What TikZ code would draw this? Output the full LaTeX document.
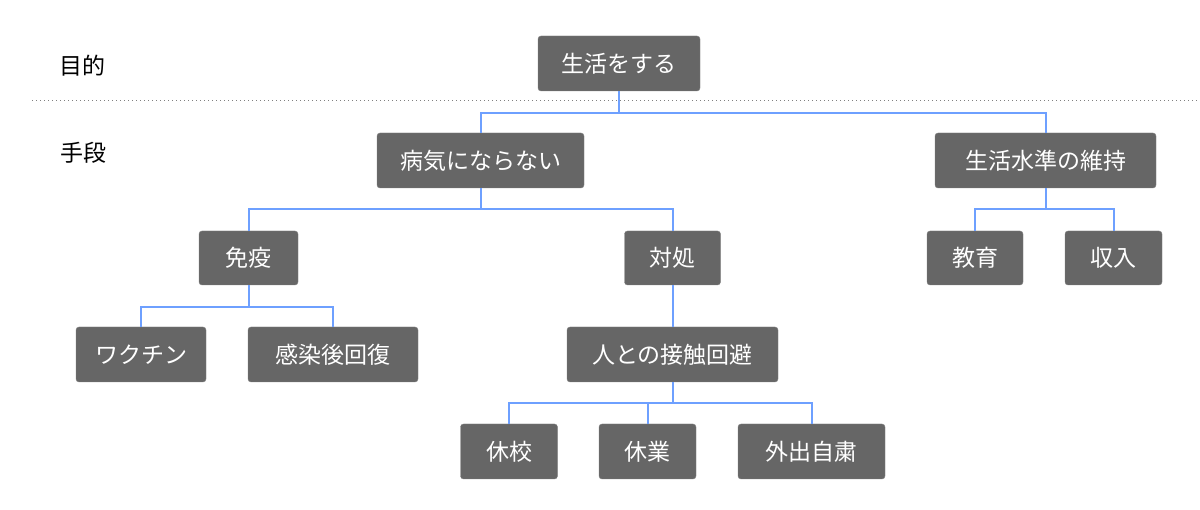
\documentclass[tikz,border=0pt]{standalone}
\usepackage{fontspec}
\setmainfont{Noto Sans CJK JP}
\definecolor{connblue}{RGB}{110,160,255}
\begin{document}
\begin{tikzpicture}[x=1pt,y=-1pt,
  box/.style={draw=black!50,fill=black!60,text=white,rounded corners=3pt,inner sep=0pt,minimum height=55pt,font=\fontsize{23}{25}\selectfont},
  conn/.style={draw=connblue,line width=2pt},
  lbl/.style={inner sep=0pt,font=\fontsize{23}{25}\selectfont}]
\useasboundingbox (0,0) rectangle (1200,510);
\draw[black!50,line width=1pt,dash pattern=on 1pt off 3pt] (32,101) -- (1197,101);
\node[lbl] (mokuteki) at (82,66) {目的};
\node[lbl] (shudan) at (83,153) {手段};
\node[box,minimum width=162pt] (top) at (619,63.5) {生活をする};
\node[box,minimum width=207pt] (byoki) at (480.5,160.5) {病気にならない};
\node[box,minimum width=221pt] (suijun) at (1045.5,160.5) {生活水準の維持};
\node[box,minimum width=99pt,minimum height=54pt] (meneki) at (248.5,258) {免疫};
\node[box,minimum width=96pt,minimum height=54pt] (taisho) at (672.5,258) {対処};
\node[box,minimum width=96pt,minimum height=54pt] (kyoiku) at (975,258) {教育};
\node[box,minimum width=97pt,minimum height=54pt] (shunyu) at (1113.5,258) {収入};
\node[box,minimum width=130pt] (wakuchin) at (141,354.5) {ワクチン};
\node[box,minimum width=170pt] (kansen) at (333,354.5) {感染後回復};
\node[box,minimum width=211pt] (hito) at (672.5,354.5) {人との接触回避};
\node[box,minimum width=97pt] (kyuko) at (509,451.5) {休校};
\node[box,minimum width=97pt] (kyugyo) at (647.5,451.5) {休業};
\node[box,minimum width=147pt] (gaishutsu) at (811.5,451.5) {外出自粛};
\coordinate (b1) at (0,113);
\coordinate (b2) at (0,209.5);
\coordinate (b3) at (0,307);
\coordinate (b4) at (0,403.5);
\draw[conn] (top.south) -- (top.south |- b1) -| (byoki.north);
\draw[conn] (top.south |- b1) -| (suijun.north);
\draw[conn] (byoki.south) -- (byoki.south |- b2) -| (meneki.north);
\draw[conn] (byoki.south |- b2) -| (taisho.north);
\draw[conn] (suijun.south) -- (suijun.south |- b2) -| (kyoiku.north);
\draw[conn] (suijun.south |- b2) -| (shunyu.north);
\draw[conn] (meneki.south) -- (meneki.south |- b3) -| (wakuchin.north);
\draw[conn] (meneki.south |- b3) -| (kansen.north);
\draw[conn] (taisho.south) -- (hito.north);
\draw[conn] (hito.south) -- (hito.south |- b4) -| (kyuko.north);
\draw[conn] (hito.south |- b4) -| (kyugyo.north);
\draw[conn] (hito.south |- b4) -| (gaishutsu.north);
\end{tikzpicture}
\end{document}
